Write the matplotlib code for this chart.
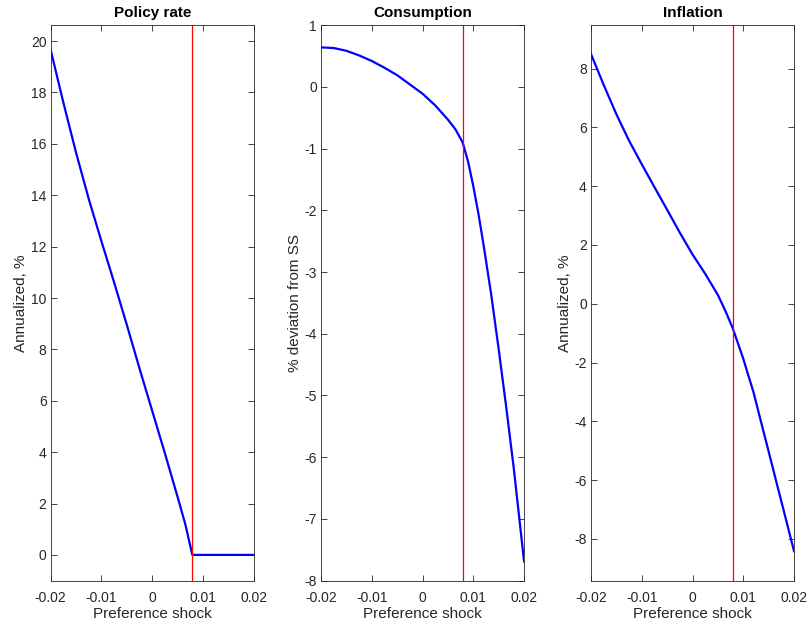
import matplotlib.pyplot as plt

plt.rcParams['font.family'] = ['Liberation Sans', 'DejaVu Sans']
plt.rcParams['axes.unicode_minus'] = False

# Preference shock grid and responses
shock = [-0.02, -0.0175, -0.015, -0.0125, -0.01, -0.0075, -0.005, -0.0025, 0.0,
         0.0025, 0.005, 0.0065, 0.0079, 0.009, 0.01, 0.011, 0.012, 0.0135,
         0.015, 0.0165, 0.018, 0.02]
policy_rate = [19.65, 17.6, 15.65, 13.85, 12.2, 10.6, 8.95, 7.25, 5.6,
               3.95, 2.25, 1.2, 0.0, 0.0, 0.0, 0.0, 0.0, 0.0,
               0.0, 0.0, 0.0, 0.0]
consumption = [0.64, 0.63, 0.585, 0.51, 0.42, 0.31, 0.19, 0.04, -0.11,
               -0.30, -0.53, -0.69, -0.90, -1.22, -1.61, -2.05, -2.55, -3.35,
               -4.25, -5.2, -6.2, -7.69]
inflation = [8.5, 7.45, 6.45, 5.55, 4.75, 3.97, 3.2, 2.42, 1.68,
             1.02, 0.3, -0.25, -0.82, -1.37, -1.87, -2.44, -3.0, -4.02,
             -5.03, -6.05, -7.06, -8.42]
zlb_shock = 0.0079

panels = [
    ('Policy rate', policy_rate, 'Annualized, %', (-1, 20.62), list(range(0, 21, 2))),
    ('Consumption', consumption, '% deviation from SS', (-8, 1), list(range(-8, 2))),
    ('Inflation', inflation, 'Annualized, %', (-9.42, 9.48), list(range(-8, 9, 2))),
]

fig = plt.figure(figsize=(8.09, 6.28), dpi=100)
lefts = [0.0627, 0.3968, 0.7305]
for left, (title, vals, ylabel, ylim, yticks) in zip(lefts, panels):
    ax = fig.add_axes([left, 0.0755, 0.251, 0.8844])
    ax.plot(shock, vals, color='#0000ff', lw=1.6)
    ax.axvline(zlb_shock, color='#ff0000', lw=0.9)
    ax.set_xlim(-0.02, 0.02)
    ax.set_ylim(*ylim)
    ax.set_xticks([-0.02, -0.01, 0, 0.01, 0.02])
    ax.set_xticklabels(['-0.02', '-0.01', '0', '0.01', '0.02'])
    ax.set_yticks(yticks)
    ax.set_title(title, fontsize=11, fontweight='bold', pad=6)
    ax.set_xlabel('Preference shock', fontsize=11, color='#262626', labelpad=1.5)
    ax.set_ylabel(ylabel, fontsize=11, color='#262626', labelpad=2)
    ax.tick_params(direction='in', top=True, right=True, labelsize=10,
                   colors='#262626', length=4, width=0.6)
    ax.tick_params(axis='x', pad=7.5)
    ax.tick_params(axis='y', pad=3)
    for s in ax.spines.values():
        s.set_color('#262626')
        s.set_linewidth(0.6)

plt.savefig('out.png', dpi=100)
